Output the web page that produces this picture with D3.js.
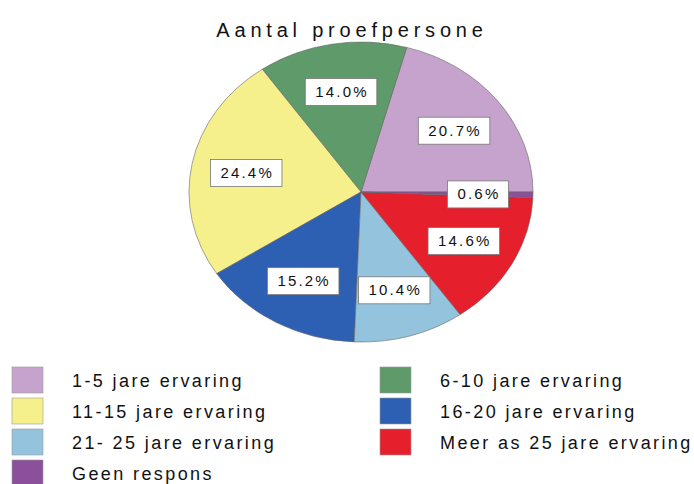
<!DOCTYPE html>
<html>
<head>
<meta charset="utf-8">
<script src="https://cdn.jsdelivr.net/npm/d3@7"></script>
<style>
  html, body { margin: 0; padding: 0; background: #ffffff; }
  svg { display: block; }
  text { font-family: "Liberation Sans", Arial, sans-serif; fill: #111; }
</style>
</head>
<body>
<svg id="chart" width="694" height="484"></svg>
<script>
// ---- data ----
const title = "Aantal proefpersone";
const categories = [
  "1-5 jare ervaring",
  "6-10 jare ervaring",
  "11-15 jare ervaring",
  "16-20 jare ervaring",
  "21- 25 jare ervaring",
  "Meer as 25 jare ervaring",
  "Geen respons"
];
const percentages = [20.7, 14.0, 24.4, 15.2, 10.4, 14.6, 0.6];
const colours = ["#c6a3cd", "#5f9a6b", "#f6f08c", "#2d5fb3", "#93c3dd", "#e61f2d", "#8b4f9b"];

// ---- layout ----
const svg = d3.select("#chart");
const cx = 361, cy = 192, rx = 172, ry = 150;

svg.append("text")
  .attr("x", 352).attr("y", 37)
  .attr("text-anchor", "middle")
  .attr("font-size", 20)
  .attr("letter-spacing", 4.8)
  .text(title);

const data = categories.map((c, i) => ({ cat: c, value: percentages[i], colour: colours[i] }));

const pie = d3.pie().sort(null).value(d => d.value)
  .startAngle(Math.PI / 2).endAngle(Math.PI / 2 - 2 * Math.PI);
const arcs = pie(data);
const arc = d3.arc().innerRadius(0).outerRadius(ry);

const g = svg.append("g").attr("transform", `translate(${cx},${cy}) scale(${rx / ry},1)`);
g.selectAll("path").data(arcs).join("path")
  .attr("d", arc)
  .attr("fill", d => d.data.colour)
  .attr("stroke", "#666")
  .attr("stroke-width", 0.6)
  .attr("vector-effect", "non-scaling-stroke");

// labels
const labelR = 0.68;
const lg = svg.append("g");
arcs.forEach(a => {
  const m = (a.startAngle + a.endAngle) / 2;
  const x = cx + rx * labelR * Math.sin(m);
  const y = cy - ry * labelR * Math.cos(m);
  const grp = lg.append("g");
  const t = grp.append("text")
    .attr("x", x + 1).attr("y", y + 5.5)
    .attr("text-anchor", "middle")
    .attr("font-size", 15)
    .attr("letter-spacing", 2.2)
    .attr("fill", "#1a1a1a")
    .text(d3.format(".1f")(a.data.value) + "%");
  const bb = t.node().getBBox();
  grp.insert("rect", "text")
    .attr("x", x - bb.width / 2 - 9)
    .attr("y", y - 13)
    .attr("width", bb.width + 18)
    .attr("height", 27)
    .attr("fill", "#fff")
    .attr("stroke", "#777")
    .attr("stroke-width", 0.8);
});

// legend
const legend = svg.append("g");
const colX = [12, 380], rowY0 = 367, rowH = 31;
data.forEach((d, i) => {
  const col = i % 2, row = Math.floor(i / 2);
  const x = colX[col], y = rowY0 + row * rowH;
  legend.append("rect")
    .attr("x", x).attr("y", y)
    .attr("width", 31).attr("height", 26)
    .attr("fill", d.colour)
    .attr("stroke", "#999").attr("stroke-width", 0.6);
  legend.append("text")
    .attr("x", x + 60).attr("y", y + 20)
    .attr("font-size", 18)
    .attr("letter-spacing", 2.4)
    .text(d.cat);
});
</script>
</body>
</html>
